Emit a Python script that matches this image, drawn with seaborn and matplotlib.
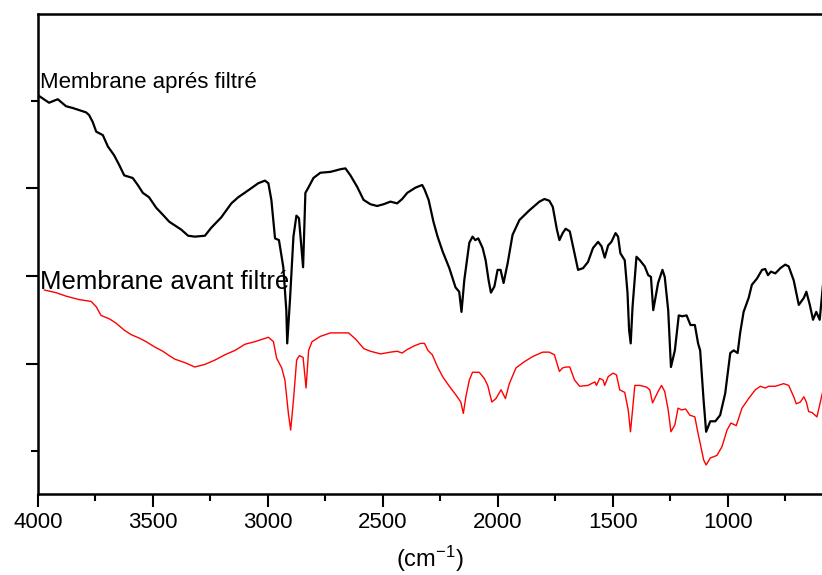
import matplotlib
matplotlib.use("Agg")
import matplotlib.pyplot as plt
import seaborn as sns
import pandas as pd
from matplotlib.ticker import MultipleLocator, FixedLocator

# ---- data (wavenumber in cm-1, transmittance in arbitrary units) ----
wn_after = [3997, 3952, 3914, 3878, 3849, 3791, 3778, 3762, 3747, 3718,
            3696, 3669, 3647, 3625, 3588, 3566, 3544, 3517, 3486, 3457,
            3429, 3377, 3347, 3318, 3274, 3247, 3203, 3159, 3129, 3085,
            3042, 3013, 2998, 2985, 2969, 2952, 2933, 2920, 2916, 2904,
            2889, 2876, 2865, 2855, 2847, 2837, 2824, 2802, 2772, 2728,
            2685, 2663, 2641, 2612, 2584, 2554, 2525, 2497, 2467, 2438,
            2416, 2394, 2358, 2329, 2319, 2301, 2280, 2262, 2240, 2211,
            2184, 2168, 2158, 2146, 2124, 2110, 2098, 2085, 2066, 2053,
            2040, 2030, 2015, 2001, 1988, 1975, 1957, 1936, 1906, 1863,
            1819, 1797, 1776, 1761, 1743, 1732, 1718, 1705, 1687, 1673,
            1651, 1629, 1608, 1586, 1564, 1549, 1535, 1520, 1506, 1488,
            1477, 1467, 1448, 1436, 1429, 1422, 1414, 1397, 1382, 1361,
            1346, 1334, 1324, 1303, 1284, 1274, 1259, 1247, 1230, 1213,
            1198, 1179, 1162, 1143, 1129, 1120, 1105, 1094, 1076, 1054,
            1033, 1011, 989, 974, 957, 946, 931, 909, 895, 873,
            851, 837, 825, 812, 793, 771, 750, 735, 713, 691,
            669, 658, 643, 629, 615, 600, 585]
t_after = [5.06, 4.98, 5.02, 4.94, 4.92, 4.87, 4.84, 4.76, 4.65, 4.61,
           4.48, 4.38, 4.27, 4.15, 4.12, 4.04, 3.95, 3.90, 3.78, 3.70,
           3.62, 3.53, 3.46, 3.45, 3.46, 3.55, 3.67, 3.83, 3.90, 3.98,
           4.06, 4.09, 4.06, 3.87, 3.43, 3.41, 3.10, 2.61, 2.23, 2.73,
           3.45, 3.69, 3.66, 3.35, 3.10, 3.95, 4.01, 4.12, 4.18, 4.19,
           4.22, 4.23, 4.15, 4.02, 3.87, 3.82, 3.80, 3.82, 3.85, 3.83,
           3.88, 3.95, 4.01, 4.04, 3.99, 3.87, 3.62, 3.45, 3.28, 3.09,
           2.87, 2.82, 2.59, 2.95, 3.38, 3.45, 3.41, 3.43, 3.32, 3.18,
           2.95, 2.81, 2.88, 3.07, 3.07, 2.92, 3.15, 3.47, 3.64, 3.75,
           3.85, 3.88, 3.86, 3.79, 3.53, 3.41, 3.49, 3.54, 3.51, 3.34,
           3.07, 3.09, 3.16, 3.32, 3.39, 3.34, 3.21, 3.35, 3.39, 3.49,
           3.45, 3.26, 3.18, 2.81, 2.38, 2.23, 2.65, 3.22, 3.18, 3.11,
           3.01, 2.99, 2.61, 2.92, 3.07, 2.99, 2.61, 1.96, 2.15, 2.55,
           2.54, 2.55, 2.44, 2.44, 2.23, 2.15, 1.58, 1.22, 1.34, 1.34,
           1.41, 1.66, 2.12, 2.15, 2.12, 2.35, 2.59, 2.75, 2.90, 2.97,
           3.07, 3.08, 3.01, 3.05, 3.03, 3.09, 3.13, 3.11, 2.95, 2.67,
           2.75, 2.82, 2.67, 2.50, 2.59, 2.50, 2.92]

wn_before = [3973, 3922, 3878, 3820, 3769, 3747, 3726, 3689, 3660, 3624,
             3595, 3559, 3530, 3493, 3457, 3429, 3405, 3361, 3318, 3274,
             3230, 3187, 3143, 3100, 3056, 2998, 2976, 2962, 2940, 2926,
             2911, 2901, 2889, 2875, 2863, 2855, 2847, 2834, 2823, 2808,
             2772, 2728, 2685, 2649, 2619, 2583, 2554, 2510, 2467, 2438,
             2416, 2394, 2365, 2336, 2319, 2304, 2285, 2262, 2240, 2211,
             2182, 2161, 2150, 2139, 2124, 2110, 2081, 2059, 2044, 2026,
             2008, 1986, 1967, 1950, 1921, 1885, 1848, 1805, 1776, 1754,
             1732, 1718, 1703, 1687, 1666, 1644, 1608, 1578, 1571, 1557,
             1542, 1535, 1520, 1499, 1484, 1470, 1448, 1433, 1423, 1404,
             1382, 1353, 1339, 1327, 1303, 1288, 1274, 1259, 1247, 1230,
             1216, 1201, 1183, 1165, 1143, 1129, 1120, 1105, 1094, 1076,
             1047, 1025, 1003, 986, 963, 938, 909, 880, 858, 837,
             822, 793, 757, 735, 713, 702, 684, 669, 658, 648,
             633, 612, 597, 585]
t_before = [2.84, 2.81, 2.77, 2.73, 2.71, 2.65, 2.55, 2.51, 2.46, 2.38,
            2.33, 2.29, 2.25, 2.19, 2.14, 2.09, 2.05, 2.01, 1.96, 1.99,
            2.04, 2.10, 2.15, 2.22, 2.25, 2.30, 2.25, 2.06, 1.95, 1.81,
            1.43, 1.24, 1.58, 2.04, 2.09, 2.08, 2.07, 1.72, 2.15, 2.25,
            2.31, 2.35, 2.35, 2.35, 2.28, 2.17, 2.14, 2.11, 2.13, 2.14,
            2.12, 2.16, 2.20, 2.23, 2.23, 2.15, 2.10, 1.96, 1.85, 1.74,
            1.64, 1.56, 1.43, 1.62, 1.81, 1.90, 1.90, 1.83, 1.75, 1.56,
            1.60, 1.70, 1.60, 1.77, 1.95, 2.02, 2.08, 2.13, 2.13, 2.10,
            1.91, 1.95, 1.96, 1.96, 1.81, 1.74, 1.75, 1.79, 1.75, 1.83,
            1.81, 1.75, 1.85, 1.89, 1.87, 1.70, 1.67, 1.47, 1.22, 1.75,
            1.75, 1.73, 1.70, 1.55, 1.68, 1.75, 1.68, 1.47, 1.22, 1.30,
            1.49, 1.47, 1.48, 1.41, 1.39, 1.20, 1.09, 0.90, 0.84, 0.92,
            0.95, 1.05, 1.24, 1.32, 1.29, 1.49, 1.60, 1.70, 1.74, 1.72,
            1.74, 1.74, 1.77, 1.75, 1.62, 1.54, 1.56, 1.62, 1.56, 1.45,
            1.44, 1.39, 1.56, 1.70]

label_after = "Membrane aprés filtré"
label_before = "Membrane avant filtré"
x_ticks = [4000, 3500, 3000, 2500, 2000, 1500, 1000]
x_label = "(cm$^{-1}$)"

# ---- style ----
sns.set_theme(style="ticks", rc={
    "axes.edgecolor": "black", "xtick.color": "black", "ytick.color": "black",
    "text.color": "black", "axes.labelcolor": "black",
})
plt.rcParams["font.family"] = ["Liberation Sans", "DejaVu Sans"]
plt.rcParams["mathtext.default"] = "regular"

fig = plt.figure(figsize=(8.22, 5.75), dpi=100)
ax = fig.add_axes([38 / 822, 81 / 575, 784 / 822, 480 / 575])

df_after = pd.DataFrame({"wn": wn_after, "t": t_after})
df_before = pd.DataFrame({"wn": wn_before, "t": t_before})
sns.lineplot(data=df_after, x="wn", y="t", color="black", linewidth=1.6,
             estimator=None, sort=False, ax=ax)
sns.lineplot(data=df_before, x="wn", y="t", color="#ff0000", linewidth=1.0,
             estimator=None, sort=False, ax=ax)

ax.set_xlim(4000, 590)
ax.set_ylim(0.509, 5.994)

ax.xaxis.set_major_locator(FixedLocator(x_ticks))
ax.xaxis.set_minor_locator(MultipleLocator(250))
ax.yaxis.set_major_locator(FixedLocator([2, 3, 4]))
ax.yaxis.set_minor_locator(FixedLocator([1, 5]))
ax.tick_params(axis="y", which="both", labelleft=False)
ax.tick_params(which="major", direction="out", length=9, width=1.5)
ax.tick_params(which="minor", direction="out", length=5, width=1.5)
ax.tick_params(axis="x", labelsize=16, pad=4)

for side in ["left", "top", "bottom"]:
    ax.spines[side].set_linewidth(1.8)
ax.spines["right"].set_visible(False)

ax.set_xlabel(x_label, fontsize=17, labelpad=8)
ax.set_ylabel("")

ax.text(3991, 5.15, label_after, fontsize=16, ha="left", va="baseline")
ax.text(3991, 2.85, label_before, fontsize=18.5, ha="left", va="baseline")

fig.savefig("out.png", dpi=100)
